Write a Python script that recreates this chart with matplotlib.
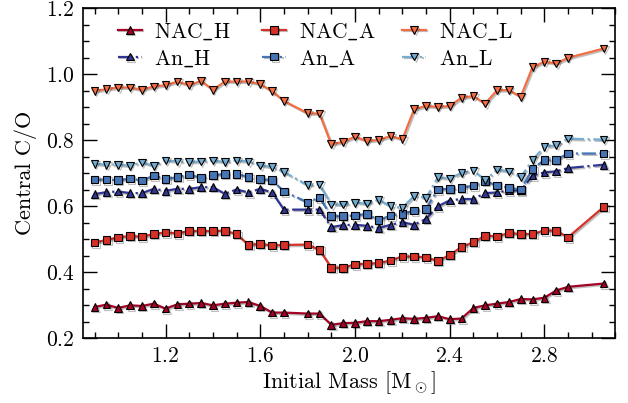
import numpy as np
import matplotlib
matplotlib.use("Agg")
import matplotlib.pyplot as plt
import matplotlib.patheffects as pe
from matplotlib.ticker import MultipleLocator

# Computer Modern look
plt.rcParams["font.family"] = ["cmr10", "DejaVu Serif"]
plt.rcParams["mathtext.fontset"] = "cm"
plt.rcParams["axes.formatter.use_mathtext"] = True
plt.rcParams["axes.unicode_minus"] = False

# initial masses of the grid (same for every track set)
mass = np.concatenate([np.arange(0.90, 1.701, 0.05),
                       np.arange(1.80, 2.901, 0.05),
                       [3.05]])

# central C/O ratio, non-accelerated (NAC) models
nac_h = [0.295, 0.302, 0.292, 0.300, 0.298, 0.305, 0.290, 0.303, 0.305, 0.307,
         0.300, 0.305, 0.308, 0.310, 0.298, 0.278, 0.278,
         0.275, 0.275, 0.241, 0.246, 0.247, 0.252, 0.252, 0.256, 0.261, 0.259,
         0.262, 0.267, 0.258, 0.260, 0.292, 0.300, 0.305, 0.310, 0.319, 0.318,
         0.323, 0.345, 0.356, 0.366]
nac_a = [0.490, 0.498, 0.506, 0.510, 0.508, 0.516, 0.521, 0.518, 0.525, 0.525,
         0.525, 0.526, 0.516, 0.483, 0.486, 0.481, 0.483,
         0.484, 0.468, 0.414, 0.414, 0.424, 0.426, 0.428, 0.436, 0.448, 0.448,
         0.445, 0.435, 0.452, 0.477, 0.491, 0.511, 0.509, 0.519, 0.516, 0.516,
         0.527, 0.526, 0.506, 0.598]
nac_l = [0.949, 0.955, 0.960, 0.960, 0.953, 0.963, 0.967, 0.978, 0.967, 0.980,
         0.953, 0.978, 0.978, 0.978, 0.970, 0.949, 0.919,
         0.882, 0.881, 0.788, 0.795, 0.811, 0.798, 0.801, 0.813, 0.803, 0.894,
         0.904, 0.901, 0.904, 0.929, 0.934, 0.911, 0.952, 0.952, 0.932, 1.022,
         1.038, 1.033, 1.050, 1.078]

# central C/O ratio, An models
an_h = [0.637, 0.643, 0.645, 0.640, 0.640, 0.653, 0.647, 0.653, 0.653, 0.658,
        0.658, 0.638, 0.651, 0.642, 0.653, 0.642, 0.590,
        0.590, 0.590, 0.537, 0.543, 0.544, 0.541, 0.534, 0.544, 0.552, 0.544,
        0.562, 0.600, 0.618, 0.622, 0.622, 0.640, 0.642, 0.648, 0.648, 0.693,
        0.703, 0.706, 0.716, 0.726]
an_a = [0.681, 0.681, 0.679, 0.684, 0.678, 0.693, 0.683, 0.688, 0.696, 0.686,
        0.694, 0.698, 0.698, 0.689, 0.683, 0.679, 0.645,
        0.612, 0.627, 0.570, 0.570, 0.572, 0.577, 0.558, 0.572, 0.577, 0.587,
        0.592, 0.651, 0.653, 0.656, 0.663, 0.676, 0.663, 0.656, 0.651, 0.713,
        0.741, 0.741, 0.760, 0.760]
an_l = [0.729, 0.726, 0.726, 0.723, 0.733, 0.723, 0.739, 0.736, 0.734, 0.736,
        0.739, 0.734, 0.739, 0.736, 0.724, 0.719, 0.704,
        0.664, 0.666, 0.606, 0.605, 0.611, 0.608, 0.620, 0.600, 0.595, 0.632,
        0.625, 0.688, 0.684, 0.701, 0.709, 0.679, 0.711, 0.706, 0.688, 0.741,
        0.780, 0.785, 0.805, 0.802]

labels = [r"NAC$\_$H", r"NAC$\_$A", r"NAC$\_$L", r"An$\_$H", r"An$\_$A", r"An$\_$L"]
series = [nac_h, nac_a, nac_l, an_h, an_a, an_l]
colors = ["#a50026", "#d73027", "#f46d43", "#313695", "#4575b4", "#74add1"]
markers = ["^", "s", "v", "^", "s", "v"]
styles = ["-", "-", "-", "-.", "-.", "-."]

shadow = [pe.SimpleLineShadow(offset=(1.0, -1.0), shadow_color="k", alpha=0.25),
          pe.Normal()]

fig = plt.figure(figsize=(6.28, 4.03), dpi=100)
ax = fig.add_axes([0.1317, 0.1605, 0.8483, 0.8189])

handles = []
for y, lab, c, m, ls in zip(series, labels, colors, markers, styles):
    h, = ax.plot(mass, y, ls=ls, color=c, lw=1.6, marker=m, ms=5.5,
                 mfc=c, mec="k", mew=0.8, label=lab, path_effects=shadow)
    handles.append(h)

ax.set_xlim(0.85, 3.1)
ax.set_ylim(0.2, 1.2)
ax.xaxis.set_major_locator(MultipleLocator(0.4))
ax.xaxis.set_minor_locator(MultipleLocator(0.1))
ax.yaxis.set_major_locator(MultipleLocator(0.2))
ax.yaxis.set_minor_locator(MultipleLocator(0.05))
ax.tick_params(which="both", direction="in", top=True, right=True, labelsize=15.5)
ax.tick_params(which="major", length=10, width=1.0, pad=6)
ax.tick_params(which="minor", length=4.5, width=1.0)
for s in ax.spines.values():
    s.set_linewidth(1.2)

ax.set_xlabel(r"Initial Mass [M$_\odot$]", fontsize=16, labelpad=2)
ax.set_ylabel("Central C/O", fontsize=16, labelpad=6)

# legend in three columns: NAC on top, An below
col_x = [0.066, 0.337, 0.600]
for k, x0 in enumerate(col_x):
    leg = ax.legend([handles[k], handles[k + 3]], [labels[k], labels[k + 3]],
                    loc="upper left", bbox_to_anchor=(x0, 0.961), frameon=False,
                    fontsize=15.5, handlelength=1.1, labelspacing=0.28,
                    handletextpad=0.6, borderpad=0, borderaxespad=0)
    if k < 2:
        ax.add_artist(leg)

fig.savefig("out.png", dpi=100)
